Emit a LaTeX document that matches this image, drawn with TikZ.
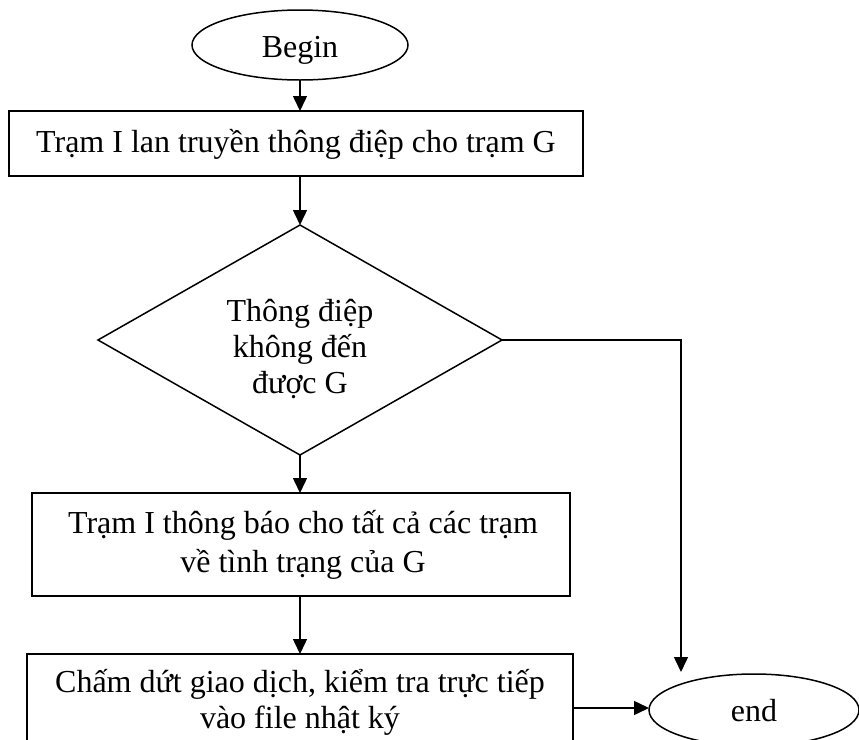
\documentclass[tikz,border=0pt]{standalone}
\usepackage{fontspec}
\setmainfont{Liberation Serif}
\usetikzlibrary{shapes.geometric,arrows.meta}
\begin{document}
\begin{tikzpicture}[x=0.5pt,y=-0.5pt,
  line width=0.75pt,
  every node/.style={inner sep=0pt, outer sep=0pt},
  txt/.style={font=\fontsize{16}{18}\selectfont, align=center},
  box/.style={draw, rectangle, line width=1pt},
  term/.style={draw, ellipse},
  decision/.style={draw, diamond},
  flow/.style={-{Triangle[length=7.5pt,width=7pt]}}
]
\useasboundingbox (0,0) rectangle (859,740);
\fill[white] (0,0) rectangle (859,740);
\clip (0,0) rectangle (859,740);

% shapes
\node[term, minimum width=108pt, minimum height=35pt] (begin) at (300,45) {};
\node[box, minimum width=287pt, minimum height=32.5pt] (b1) at (296,143.5) {};
\node[decision, minimum width=202pt, minimum height=115pt] (dec) at (300,340) {};
\node[box, minimum width=269pt, minimum height=51.5pt] (b2) at (301,544.5) {};
\node[box, minimum width=273pt, minimum height=54pt] (b3) at (300,708) {};
\node[term, minimum width=105pt, minimum height=36pt] (end) at (754,710) {};

% texts
\node[txt] (begin-t) at ([yshift=-2.5pt]begin.center) {Begin};
\node[txt] (b1-t) at ([yshift=-0.5pt]b1.center) {Trạm I lan truyền thông điệp cho trạm G};
\node[txt] (dec-t) at ([yshift=-4.75pt]dec.center) {Thông điệp\\không đến\\được G};
\node[txt, font=\fontsize{16}{19.5}\selectfont] (b2-t) at ([xshift=1pt,yshift=-0.25pt]b2.center) {Trạm I thông báo cho tất cả các trạm\\về tình trạng của G};
\node[txt] (b3-t) at ([yshift=2.75pt]b3.center) {Chấm dứt giao dịch, kiểm tra trực tiếp\\vào file nhật ký};
\node[txt] (end-t) at ([yshift=-0.5pt]end.center) {end};

% connectors
\coordinate (end-in) at (681,672);
\draw[flow] (begin.south) -- (begin.south |- b1.north);
\draw[flow] (dec.north |- b1.south) -- (dec.north);
\draw[flow] (dec.south) -- (dec.south |- b2.north);
\draw[flow] (dec.south |- b2.south) -- (dec.south |- b3.north);
\draw[flow] (b3.east) -- (b3.east -| end.west);
\draw[flow] (dec.east) -| (end-in);
\end{tikzpicture}
\end{document}
